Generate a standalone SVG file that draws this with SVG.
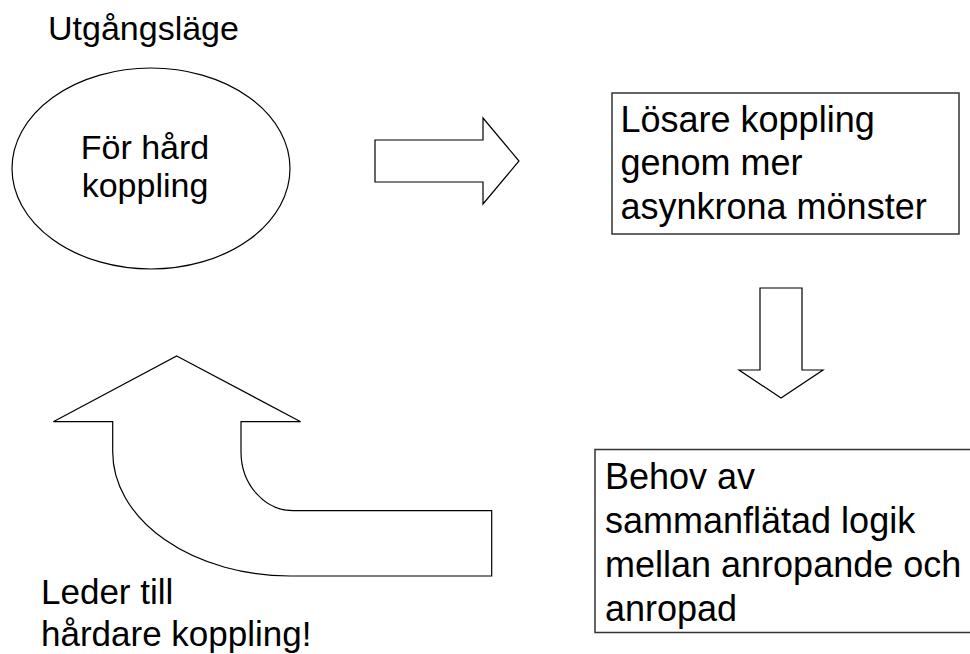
<svg xmlns="http://www.w3.org/2000/svg" width="970" height="654" viewBox="0 0 970 654">
<style>
  .shape { fill: #ffffff; stroke: #000000; stroke-width: 1.2; }
  .box { fill: #ffffff; stroke: #333333; stroke-width: 1.5; }
  .t { font-family: "Liberation Sans", Arial, sans-serif; font-size: 34px; fill: #000000; }
  .b { font-size: 36px; }
  .l { font-size: 35px; }
  .c { text-anchor: middle; }
</style>
<rect x="0" y="0" width="970" height="654" fill="#ffffff"/>
<g id="label-start">
  <text class="t" x="48" y="39.5">Utgångsläge</text>
</g>
<g id="node-hard">
  <ellipse class="shape" cx="151" cy="168.5" rx="139" ry="100.5"/>
  <text class="t c" x="145" y="159">För hård</text>
  <text class="t c" x="145" y="197">koppling</text>
</g>
<g id="node-losare">
  <rect class="box" x="612" y="93" width="347" height="141"/>
  <text class="t b" x="620.5" y="131.5">Lösare koppling</text>
  <text class="t b" x="620.5" y="175">genom mer</text>
  <text class="t b" x="620.5" y="218.5">asynkrona mönster</text>
</g>
<g id="node-behov">
  <rect class="box" x="595" y="449.5" width="380" height="183"/>
  <text class="t b" x="605" y="488.5">Behov av</text>
  <text class="t b" x="605" y="532.5">sammanflätad logik</text>
  <text class="t b" x="605" y="576.5">mellan anropande och</text>
  <text class="t b" x="605" y="620.5">anropad</text>
</g>
<g id="label-leder">
  <text class="t l" x="41" y="604">Leder till</text>
  <text class="t l" x="41" y="646">hårdare koppling!</text>
</g>
<g id="connectors">
  <polygon class="shape" points="375,140 483,140 483,118 519,161 483,204 483,182 375,182"/>
  <polygon class="shape" points="760,288 802,288 802,370 823,370 781,398 739,370 760,370"/>
  <path class="shape" d="M176.7,356 L300.7,421.7 L241,421.7 L241,451.7 A52.3,59 0 0 0 293.3,510.7 L491.7,510.7 L491.7,576 L290,576 A177.3,124.3 0 0 1 112.7,451.7 L112.7,421.7 L53.3,421.7 Z"/>
</g>
</svg>
